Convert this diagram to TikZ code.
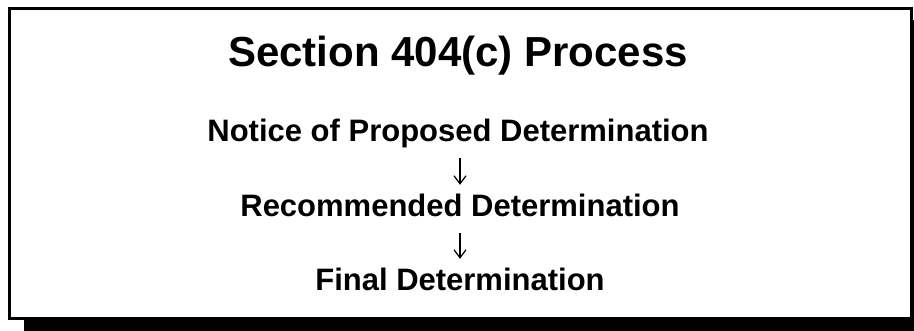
\documentclass[tikz,border=0pt]{standalone}
\usepackage{fontspec}
\setmainfont{Liberation Sans}
\usetikzlibrary{arrows.meta}
\begin{document}
\begin{tikzpicture}[x=1pt,y=1pt,
  titletext/.style={anchor=base,inner sep=0pt,font=\bfseries\fontsize{42}{48}\selectfont},
  steptext/.style={anchor=base,inner sep=0pt,text height=23pt,text depth=7pt,font=\bfseries\fontsize{31}{36}\selectfont},
  flowarrow/.style={line width=1.2pt,-{Straight Barb[length=8pt,width=12pt,line width=1.2pt]},shorten <=9pt,shorten >=9pt},
  frame/.style={draw=black,line width=3pt,fill=white}]
\useasboundingbox (0,0) rectangle (914,-331);
\clip (0,0) rectangle (914,-331);
\fill[black] (24,-20) rectangle (940,-350);
\draw[frame] (9.5,-8.5) rectangle (911,-318.5);
\node[titletext] (title) at (458,-66.5) {Section 404(c) Process};
\node[steptext] (n1) at (458,-142) {Notice of Proposed Determination};
\node[steptext] (n2) at (460,-217) {Recommended Determination};
\node[steptext] (n3) at (460,-291) {Final Determination};
\draw[flowarrow] (n1.south -| 460,0) -- (n2.north -| 460,0);
\draw[flowarrow] (n2.south -| 460,0) -- (n3.north -| 460,0);
\end{tikzpicture}
\end{document}
